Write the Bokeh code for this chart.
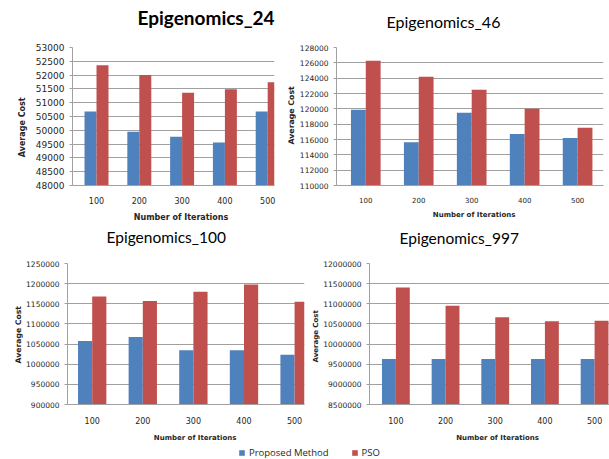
from bokeh.plotting import figure
from bokeh.models import (Range1d, FixedTicker, Title, Legend, LegendItem,
                          NumeralTickFormatter, LinearAxis)
from bokeh.layouts import column, row
from bokeh.embed import file_html
from bokeh.resources import INLINE

# ---------------- data ----------------
iterations = ["100", "200", "300", "400", "500"]
series_names = ["Proposed Method", "PSO"]
x_title = "Number of Iterations"
y_title = "Average Cost"

epi24_proposed = [50680, 49950, 49770, 49560, 50680]
epi24_pso = [52360, 52000, 51360, 51490, 51740]
epi24_yticks = [48000, 48500, 49000, 49500, 50000, 50500, 51000, 51500, 52000, 52500, 53000]

epi46_proposed = [119880, 115640, 119500, 116730, 116180]
epi46_pso = [126280, 124170, 122490, 120010, 117530]
epi46_yticks = [110000, 112000, 114000, 116000, 118000, 120000, 122000, 124000, 126000, 128000]

epi100_proposed = [1057700, 1067600, 1034600, 1034600, 1023800]
epi100_pso = [1168300, 1156700, 1179800, 1198000, 1155000]
epi100_yticks = [900000, 950000, 1000000, 1050000, 1100000, 1150000, 1200000, 1250000]

epi997_proposed = [9631000, 9631000, 9631000, 9631000, 9631000]
epi997_pso = [11401600, 10950800, 10663900, 10565600, 10582000]
epi997_yticks = [8500000, 9000000, 9500000, 10000000, 10500000, 11000000, 11500000, 12000000]

# ---------------- style ----------------
BLUE = "#4F81BD"
RED = "#C0504D"
GRID = "#a0a0a0"
TXT = "#262626"
BAR_W = 0.28
positions = [i + 1 for i in range(len(iterations))]


def spacer(p, size, side, at):
    """Blank axis (white tick, empty label) that only reserves `size` px."""
    if size <= 0:
        return
    ax = LinearAxis(ticker=FixedTicker(ticks=[at]), major_tick_out=size,
                    major_tick_in=0, major_tick_line_color="white",
                    major_tick_line_width=1,
                    minor_tick_line_color=None, axis_line_color=None,
                    major_label_standoff=0, major_label_overrides={at: ""},
                    major_label_text_font_size="1px")
    p.add_layout(ax, side)


def panel(title, proposed, pso, yticks, W, H, ml, mr, mt, mb, xs, xe,
          t_off, t_space, t_size, t_style,
          ytick_size, xtick_size, xtick_standoff,
          ylab_off, ylab_standoff, ylab_size,
          xlab_off, xlab_space, xlab_size):
    p = figure(width=W, height=H, title=None,
               x_range=Range1d(xs, xe), y_range=Range1d(yticks[0], yticks[-1]),
               toolbar_location=None, output_backend="svg",
               min_border_left=ml, min_border_right=mr,
               min_border_top=mt, min_border_bottom=mb)
    p.outline_line_color = None
    base = yticks[0]
    p.vbar(x=[q - BAR_W / 2 for q in positions], top=proposed, bottom=base,
           width=BAR_W, fill_color=BLUE, line_color=None)
    p.vbar(x=[q + BAR_W / 2 for q in positions], top=pso, bottom=base,
           width=BAR_W, fill_color=RED, line_color=None)

    p.xgrid.visible = False
    p.ygrid.grid_line_color = GRID
    p.ygrid.grid_line_width = 1

    xa = p.xaxis[0]
    xa.ticker = FixedTicker(ticks=positions)
    xa.major_label_overrides = {q: lab for q, lab in zip(positions, iterations)}
    xa.major_tick_out = 0
    xa.major_tick_in = 0
    xa.major_tick_line_color = None
    xa.minor_tick_line_color = None
    xa.axis_line_color = GRID
    xa.major_label_standoff = xtick_standoff
    xa.major_label_text_font = "DejaVu Sans"
    xa.major_label_text_font_size = xtick_size
    xa.major_label_text_color = TXT

    ya = p.yaxis[0]
    ya.ticker = FixedTicker(ticks=yticks)
    ya.formatter = NumeralTickFormatter(format="0")
    ya.major_tick_out = 3
    ya.major_tick_in = 0
    ya.major_tick_line_color = GRID
    ya.minor_tick_line_color = None
    ya.axis_line_color = GRID
    ya.major_label_standoff = 5
    ya.major_label_text_font = "DejaVu Sans"
    ya.major_label_text_font_size = ytick_size
    ya.major_label_text_color = TXT

    # chart title, above a blank band
    spacer(p, t_space, "above", xs + 0.01)
    p.add_layout(Title(text=title, align="left", offset=t_off,
                       vertical_align="top", standoff=0,
                       text_font="Lato", text_font_size=t_size,
                       text_font_style=t_style, text_color="black"), "above")
    # y axis title
    p.add_layout(Title(text=y_title, align="left", offset=ylab_off,
                       standoff=ylab_standoff, text_font="DejaVu Sans",
                       text_font_size=ylab_size, text_font_style="bold",
                       text_color=TXT), "left")
    # x axis title, below a blank band
    spacer(p, xlab_space, "below", xs + 0.01)
    p.add_layout(Title(text=x_title, align="left", offset=xlab_off,
                       vertical_align="top", standoff=0,
                       text_font="DejaVu Sans", text_font_size=xlab_size,
                       text_font_style="bold", text_color=TXT), "below")
    return p


pA = panel("Epigenomics_24", epi24_proposed, epi24_pso, epi24_yticks,
           284, 226, 72, 10, 43, 41, 0.439, 5.159,
           65, 17, "19px", "bold",
           "9px", "8px", 11,
           28.3, 11, "8px",
           61.3, 6, "8px")
pB = panel("Epigenomics_46", epi46_proposed, epi46_pso, epi46_yticks,
           325, 226, 48, 6, 47, 37, 0.447, 5.489,
           50, 15, "16px", "normal",
           "7.5px", "7px", 11,
           41, 1, "7.8px",
           96.3, 5, "7px")
pC = panel("Epigenomics_100", epi100_proposed, epi100_pso, epi100_yticks,
           308, 218, 67, 4, 37, 40, 0.512, 5.196,
           39, 16, "15.5px", "normal",
           "7.5px", "8px", 12,
           41, 1, "7.7px",
           86.3, 7, "7px")
pD = panel("Epigenomics_997", epi997_proposed, epi997_pso, epi997_yticks,
           301, 218, 58, 0, 37, 39, 0.469, 5.30,
           30, 15, "15.5px", "normal",
           "7.5px", "8px", 12,
           42, 2, "7px",
           86.7, 7, "7px")

# legend row: hidden renderers that carry the series colours
leg = figure(width=609, height=15, x_range=(0, 6), y_range=(48000, 53000),
             toolbar_location=None, output_backend="svg", min_border=0)
leg.axis.visible = False
leg.grid.visible = False
leg.outline_line_color = None
r1 = leg.vbar(x=positions, top=epi24_proposed, width=BAR_W, fill_color=BLUE,
              line_color=None, visible=False)
r2 = leg.vbar(x=positions, top=epi24_pso, width=BAR_W, fill_color=RED,
              line_color=None, visible=False)
legend = Legend(items=[LegendItem(label=series_names[0], renderers=[r1]),
                       LegendItem(label=series_names[1], renderers=[r2])],
                location=(238, 0), orientation="horizontal",
                glyph_width=7, glyph_height=7, label_standoff=4, spacing=22,
                padding=0, margin=0, border_line_color=None,
                background_fill_alpha=0, label_height=10,
                label_text_font="Open Sans", label_text_font_size="9.5px",
                label_text_color=TXT, inactive_fill_alpha=0)
leg.add_layout(legend)

layout = column(row(pA, pB), row(pC, pD), leg)
open("out.html", "w").write(file_html(layout, INLINE))
